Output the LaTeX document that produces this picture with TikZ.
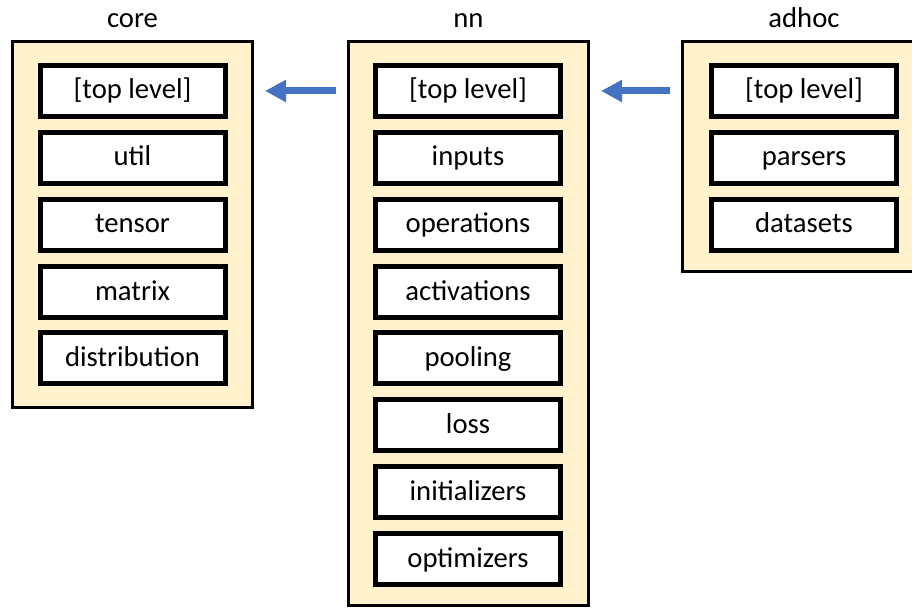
\documentclass[tikz,border=0pt]{standalone}
\usepackage{fontspec}
\setmainfont{Carlito}
\usepackage{tikz}
\usetikzlibrary{arrows.meta}

\definecolor{panelfill}{HTML}{FFF2CC}
\definecolor{linkblue}{HTML}{4472C4}

\begin{document}
\begin{tikzpicture}[x=0.75pt,y=-0.75pt,
	font=\fontsize{21.5}{26}\selectfont,
	panel/.style={draw,fill=panelfill,line width=2.25pt,inner sep=0pt,minimum width=180pt},
	module/.style={draw,fill=white,line width=3.75pt,inner sep=0pt,
		minimum width=138.75pt,minimum height=38.25pt,text height=1.25em,text depth=0.05em},
	title/.style={anchor=base},
	link/.style={linkblue,line width=5.25pt,-{Triangle[length=15.75pt,width=15.75pt]},
		shorten <=8pt,shorten >=8.25pt}]

	\useasboundingbox (0,0) rectangle (912,609);
	\clip (0,0) rectangle (912,609);

	% packages
	\node[panel,minimum height=274.5pt] (core) at (132.5,224.5) {};
	\node[panel,minimum height=423pt] (nn) at (468.5,323.5) {};
	\node[panel,minimum height=172.5pt] (adhoc) at (802.5,156.5) {};

	\node[title] (tcore) at (132.5,28) {core};
	\node[title] (tnn) at (468.5,28) {nn};
	\node[title] (tadhoc) at (804,28) {adhoc};

	% core
	\node[module] (core1) at (132.5,91) {[top level]};
	\node[module] (core2) at (132.5,158) {util};
	\node[module] (core3) at (132.5,225) {tensor};
	\node[module] (core4) at (132.5,292) {matrix};
	\node[module] (core5) at (132.5,358) {distribution};

	% nn
	\node[module] (nn1) at (468,91) {[top level]};
	\node[module] (nn2) at (468,158) {inputs};
	\node[module] (nn3) at (468,225) {operations};
	\node[module] (nn4) at (468,292) {activations};
	\node[module] (nn5) at (468,358) {pooling};
	\node[module] (nn6) at (468,425) {loss};
	\node[module] (nn7) at (468,492) {initializers};
	\node[module] (nn8) at (468,559) {optimizers};

	% adhoc
	\node[module] (adhoc1) at (804,91) {[top level]};
	\node[module] (adhoc2) at (804,158) {parsers};
	\node[module] (adhoc3) at (804,225) {datasets};

	\draw[link] (nn.west |- nn1) -- (core.east |- core1);
	\draw[link] (adhoc.west |- adhoc1) -- (nn.east |- nn1);
	%\draw[link] (adhoc.west |- adhoc1) -- (core.east |- core1);

\end{tikzpicture}
\end{document}
